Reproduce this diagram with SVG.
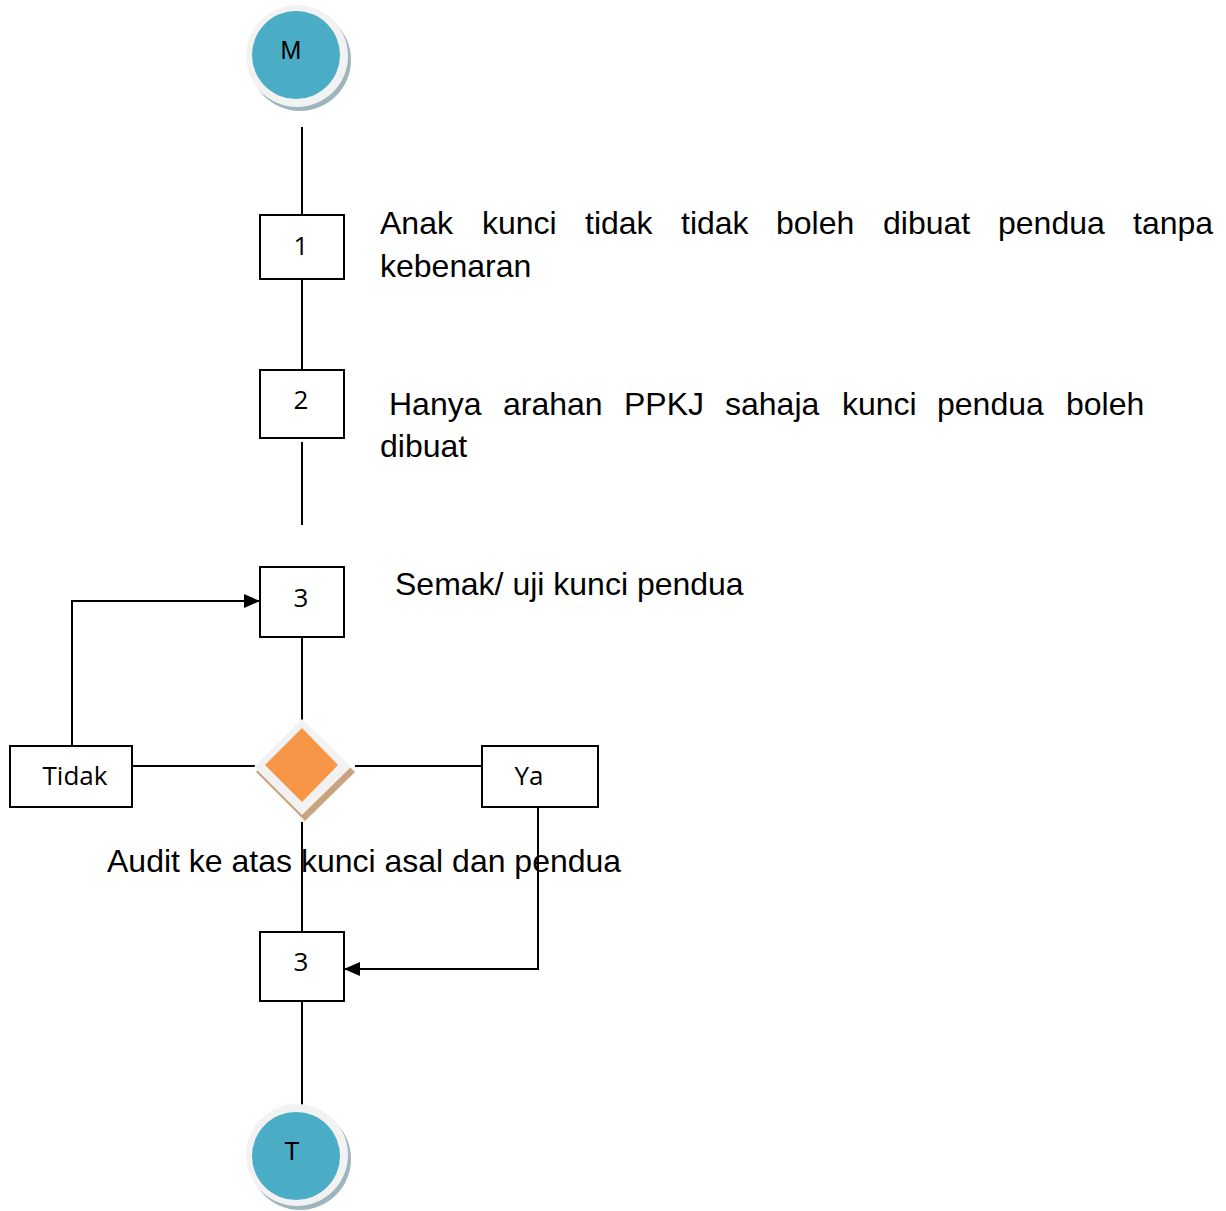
<svg xmlns="http://www.w3.org/2000/svg" width="1226" height="1211" viewBox="0 0 1226 1211">
<defs>
<style>
.ln{stroke:#000;stroke-width:2;fill:none}
.box{fill:#fff;stroke:#000;stroke-width:2}
.lbl{font-family:"Open Sans","Noto Sans",sans-serif;font-size:26px;fill:#000;text-anchor:middle}
.cl{font-family:"Liberation Sans",Arial,sans-serif;font-size:25px;fill:#000;text-anchor:middle}
.tx{font-family:"Liberation Sans",Arial,sans-serif;font-size:32px;fill:#000}
.ring{fill:#f2f2f2}
.core{fill:#4bacc6}
.shd{fill:#9db5bd}
</style>
<marker id="arr" viewBox="0 0 16 14" refX="16" refY="7" markerWidth="16" markerHeight="14" markerUnits="userSpaceOnUse" orient="auto">
<path d="M0,0 L16,7 L0,14 z" fill="#000"/>
</marker>
</defs>
<rect width="1226" height="1211" fill="#fff"/>
<g id="connectors">
<line class="ln" x1="302" y1="127" x2="302" y2="215"/>
<line class="ln" x1="302" y1="279" x2="302" y2="370"/>
<line class="ln" x1="302" y1="442" x2="302" y2="525"/>
<line class="ln" x1="302" y1="637" x2="302" y2="720"/>
<line class="ln" x1="132" y1="766" x2="255" y2="766"/>
<line class="ln" x1="355" y1="766" x2="482" y2="766"/>
<line class="ln" x1="302" y1="822" x2="302" y2="932"/>
<line class="ln" x1="302" y1="1001" x2="302" y2="1112"/>
<polyline class="ln" points="72,746 72,601 260,601" marker-end="url(#arr)"/>
<polyline class="ln" points="538,807 538,969 344,969" marker-end="url(#arr)"/>
</g>
<g id="node-M">
<circle class="shd" cx="300" cy="60" r="51"/>
<circle class="ring" cx="297" cy="56" r="51"/>
<circle class="core" cx="296" cy="55" r="44"/>
<text class="cl" x="291" y="59">M</text>
</g>
<g id="node-1">
<rect class="box" x="260" y="215" width="84" height="64"/>
<text class="lbl" x="301" y="255">1</text>
</g>
<g id="node-2">
<rect class="box" x="260" y="370" width="84" height="68"/>
<text class="lbl" x="301" y="409">2</text>
</g>
<g id="node-3a">
<rect class="box" x="260" y="567" width="84" height="70"/>
<text class="lbl" x="301" y="607">3</text>
</g>
<g id="node-decision">
<polygon points="305,724 355,772 305,821 256,772" fill="#c9a27e"/>
<polygon points="302,719 351,767 302,815 254,767" fill="#f2f2f2"/>
<polygon points="302,728 338,765 302,802 265,765" fill="#f79646"/>
</g>
<g id="node-tidak">
<rect class="box" x="10" y="746" width="122" height="61"/>
<text class="lbl" x="75" y="785">Tidak</text>
</g>
<g id="node-ya">
<rect class="box" x="482" y="746" width="116" height="61"/>
<text class="lbl" x="529" y="785">Ya</text>
</g>
<g id="node-3b">
<rect class="box" x="260" y="932" width="84" height="69"/>
<text class="lbl" x="301" y="971">3</text>
</g>
<g id="node-T">
<circle class="shd" cx="300" cy="1159" r="51"/>
<circle class="ring" cx="297" cy="1155" r="51"/>
<circle class="core" cx="296" cy="1156" r="44"/>
<text class="cl" x="292" y="1160">T</text>
</g>
<g id="texts">
<text class="tx" y="234"><tspan x="380">Anak</tspan><tspan x="482">kunci</tspan><tspan x="585">tidak</tspan><tspan x="681">tidak</tspan><tspan x="776">boleh</tspan><tspan x="883">dibuat</tspan><tspan x="998">pendua</tspan><tspan x="1133">tanpa</tspan></text>
<text class="tx" x="380" y="277">kebenaran</text>
<text class="tx" y="415"><tspan x="389">Hanya</tspan><tspan x="503">arahan</tspan><tspan x="624">PPKJ</tspan><tspan x="725">sahaja</tspan><tspan x="842">kunci</tspan><tspan x="937">pendua</tspan><tspan x="1066">boleh</tspan></text>
<text class="tx" x="380" y="457">dibuat</text>
<text class="tx" x="395" y="595">Semak/ uji kunci pendua</text>
<text class="tx" x="107" y="872">Audit ke atas kunci asal dan pendua</text>
</g>
</svg>
